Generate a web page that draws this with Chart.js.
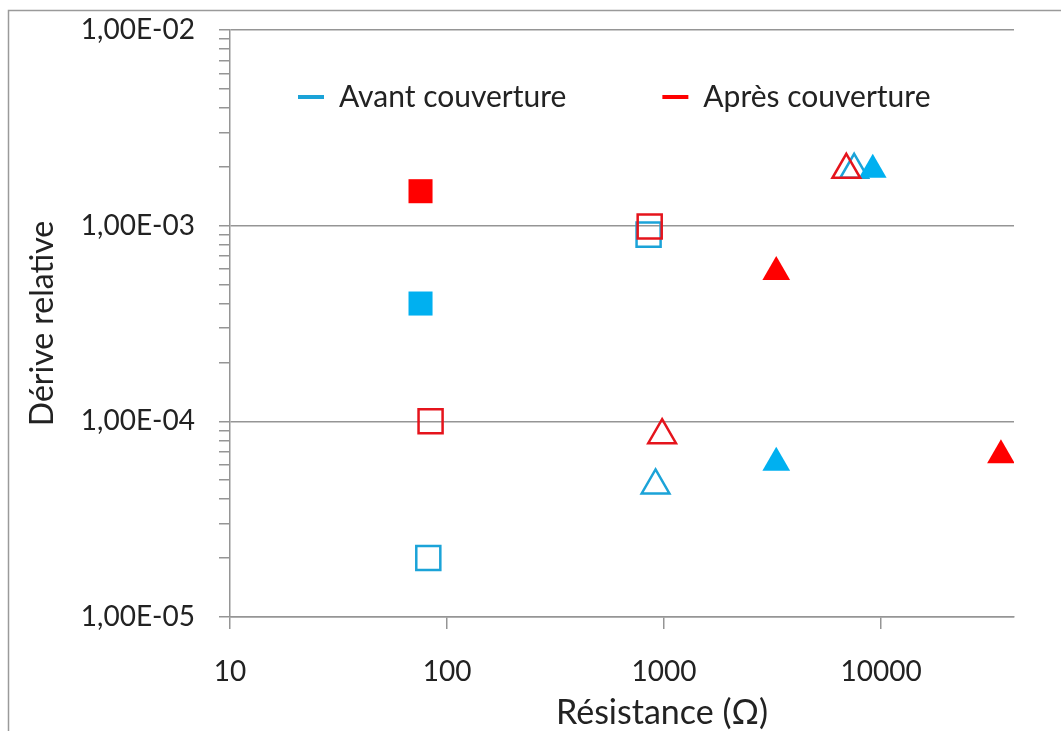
<!DOCTYPE html>
<html><head><meta charset="utf-8">
<script src="https://cdn.jsdelivr.net/npm/chart.js@4.4.1/dist/chart.umd.min.js"></script>
<style>html,body{margin:0;padding:0;background:#fff;overflow:hidden} canvas{display:block}</style>
</head><body>
<canvas id="c" width="1061" height="731"></canvas>
<script>
const seriesNames = ['Avant couverture', 'Après couverture'];
// Avant couverture (bleu)
const avantCarrePleinX = [75.5];
const avantCarrePleinY = [4.0e-4];
const avantCarreVideX = [82, 849];
const avantCarreVideY = [2.0e-5, 9.0e-4];
const avantTrianglePleinX = [3290, 9160];
const avantTrianglePleinY = [6.15e-5, 1.93e-3];
const avantTriangleVideX = [914, 7520];
const avantTriangleVideY = [4.7e-5, 1.93e-3];
// Après couverture (rouge)
const apresCarrePleinX = [75.5];
const apresCarrePleinY = [1.5e-3];
const apresCarreVideX = [84, 859];
const apresCarreVideY = [1.0e-4, 9.9e-4];
const apresTrianglePleinX = [3290, 35700];
const apresTrianglePleinY = [5.8e-4, 6.7e-5];
const apresTriangleVideX = [980, 6920];
const apresTriangleVideY = [8.5e-5, 1.93e-3];

const xTickValues = [10, 100, 1000, 10000];
const xTickLabels = ['10', '100', '1000', '10000'];
const yTickValues = [1e-5, 1e-4, 1e-3, 1e-2];
const yTickLabels = ['1,00E-05', '1,00E-04', '1,00E-03', '1,00E-02'];
const xMin = 10, xMax = 41000, yMin = 1e-5, yMax = 1e-2;

const BLUE = '#00B0F0', BLUE_LINE = '#1BA3D8';
const RED = '#FF0000', RED_LINE = '#E5141C';
const GRID = '#959595';
const FONT = 'Lato, "Open Sans", sans-serif';

function pts(xs, ys) { return xs.map((x, i) => ({x: x, y: ys[i]})); }
function sq(label, xs, ys, color, filled) {
  return {label, data: pts(xs, ys), pointStyle: 'rect', pointRadius: 17, pointHoverRadius: 17,
    pointBackgroundColor: filled ? color : 'rgba(0,0,0,0)', pointBorderColor: color,
    pointBorderWidth: filled ? 0 : 2.5, showLine: false};
}
function tri(label, xs, ys, color, filled) {
  return {label, data: pts(xs, ys), pointStyle: 'triangle', pointRadius: 16, pointHoverRadius: 16,
    pointBackgroundColor: filled ? color : 'rgba(0,0,0,0)', pointBorderColor: color,
    pointBorderWidth: filled ? 0 : 2.5, showLine: false};
}

const datasets = [
  sq(seriesNames[1], apresCarreVideX, apresCarreVideY, RED_LINE, false),
  tri(seriesNames[1], apresTriangleVideX, apresTriangleVideY, RED_LINE, false),
  sq(seriesNames[1], apresCarrePleinX, apresCarrePleinY, RED, true),
  tri(seriesNames[1], apresTrianglePleinX, apresTrianglePleinY, RED, true),
  tri(seriesNames[0], avantTrianglePleinX, avantTrianglePleinY, BLUE, true),
  tri(seriesNames[0], avantTriangleVideX, avantTriangleVideY, BLUE_LINE, false),
  sq(seriesNames[0], avantCarreVideX, avantCarreVideY, BLUE_LINE, false),
  sq(seriesNames[0], avantCarrePleinX, avantCarrePleinY, BLUE, true)
];

function isMajorY(v) { return yTickValues.some(t => Math.abs(v / t - 1) < 1e-9); }

const framePlugin = {
  id: 'frame',
  beforeDraw(chart) {
    const ctx = chart.ctx;
    ctx.save();
    ctx.fillStyle = '#fff';
    ctx.fillRect(0, 0, chart.width, chart.height);
    ctx.strokeStyle = '#9a9a9a';
    ctx.lineWidth = 1.5;
    ctx.strokeRect(8.5, 10.5, 1200, 900);
    ctx.restore();
  }
};

const LEG_PAD = 96, LEG_FONT = 30;
const X_TITLE_SHIFT = 40;
const legendPlacer = {
  id: 'legendPlacer',
  afterInit(chart) {
    const lg = chart.legend;
    if (lg && !lg._patched) {
      const fit = lg.fit.bind(lg);
      lg.fit = function () { fit(); this.height = 0; };
      lg._patched = true;
    }
  },
  afterLayout(chart) {
    const lg = chart.legend;
    if (lg) {
      lg.left = 298 - LEG_PAD; lg.right = 1061; lg.top = 97 - LEG_PAD - LEG_FONT / 2; lg.bottom = 230;
      lg.width = lg.right - lg.left; lg.height = lg.bottom - lg.top;
    }
    const xs = chart.scales.x;
    if (xs && !xs._titlePatched) {
      const orig = xs.drawTitle.bind(xs);
      xs.drawTitle = function () {
        const l = this.left, r = this.right;
        this.left = l + X_TITLE_SHIFT; this.right = r + X_TITLE_SHIFT;
        try { orig(); } finally { this.left = l; this.right = r; }
      };
      xs._titlePatched = true;
    }
  }
};

new Chart(document.getElementById('c'), {
  type: 'scatter',
  data: {datasets},
  plugins: [framePlugin, legendPlacer],
  options: {
    responsive: false,
    animation: false,
    layout: {padding: {left: 0, right: 47, top: 30, bottom: 0}},
    plugins: {
      tooltip: {enabled: false},
      legend: {
        display: true,
        position: 'top',
        align: 'start',
        labels: {
          usePointStyle: true,
          pointStyleWidth: 26,
          padding: LEG_PAD,
          color: '#222',
          font: {family: FONT, size: LEG_FONT},
          generateLabels: () => seriesNames.map((t, i) => ({
            text: t,
            fillStyle: i === 0 ? BLUE_LINE : RED,
            strokeStyle: i === 0 ? BLUE_LINE : RED,
            lineWidth: 4,
            pointStyle: 'line',
            hidden: false,
            fontColor: '#222'
          }))
        }
      }
    },
    scales: {
      x: {
        type: 'logarithmic',
        position: 'bottom',
        min: xMin, max: xMax,
        afterBuildTicks: (s) => { s.ticks = xTickValues.map(v => ({value: v})); },
        afterFit: (s) => { s.height = 114; s.paddingLeft = 0; s.paddingRight = 0; },
        grid: {drawOnChartArea: false, drawTicks: true, tickLength: 12, tickColor: GRID, tickWidth: 1.5, color: GRID, lineWidth: 1.5},
        border: {display: true, color: GRID, width: 1.5},
        ticks: {
          autoSkip: false, maxRotation: 0, padding: 26, color: '#222',
          font: {family: FONT, size: 28},
          callback: (v) => { const i = xTickValues.indexOf(v); return i >= 0 ? xTickLabels[i] : ''; }
        },
        title: {display: true, text: 'Résistance (Ω)', color: '#222', font: {family: FONT, size: 34, lineHeight: 1}, padding: {top: 0, bottom: 1}}
      },
      y: {
        type: 'logarithmic',
        position: 'left',
        min: yMin, max: yMax,
        afterBuildTicks: (s) => {
          const t = [];
          for (let d = 0; d < yTickValues.length; d++) {
            t.push({value: yTickValues[d]});
            if (d < yTickValues.length - 1) {
              for (let m = 2; m <= 9; m++) t.push({value: m * yTickValues[d]});
            }
          }
          s.ticks = t;
        },
        afterFit: (s) => { s.width = 230; s.paddingTop = 0; s.paddingBottom = 0; },
        grid: {
          drawOnChartArea: true, drawTicks: true, tickLength: 11,
          color: (c) => (c.tick && isMajorY(c.tick.value)) ? GRID : 'rgba(0,0,0,0)',
          tickColor: GRID, lineWidth: 1.5, tickWidth: 1.5
        },
        border: {display: true, color: GRID, width: 1.5},
        ticks: {
          autoSkip: false, padding: 24, color: '#222',
          font: {family: FONT, size: 28},
          callback: (v) => { const i = yTickValues.findIndex(t => Math.abs(v / t - 1) < 1e-9); return i >= 0 ? yTickLabels[i] : ''; }
        },
        title: {display: true, text: 'Dérive relative', color: '#222', font: {family: FONT, size: 32}, padding: {top: 23, bottom: 0}}
      }
    }
  }
});
</script>
</body></html>
